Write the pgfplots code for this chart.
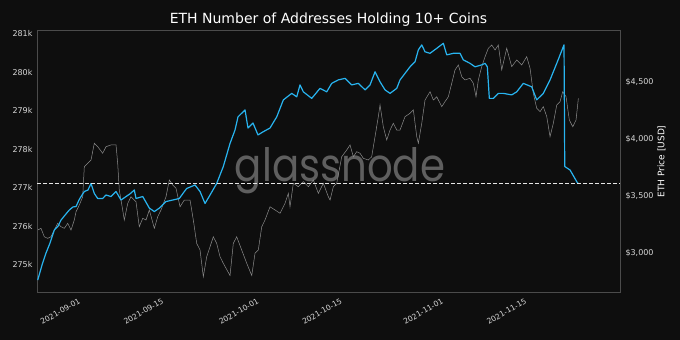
\documentclass[border=0pt]{standalone}
\usepackage{fontspec}
\setmainfont{DejaVu Sans}
\newfontfamily\wmfont{Poppins}
\usepackage{graphicx}
\usepackage{pgfplots}
\pgfplotsset{compat=1.18}
\usepackage{pgfplotstable}
\definecolor{bgc}{RGB}{14,14,14}
\definecolor{ethblue}{RGB}{40,180,240}
\definecolor{pricegray}{RGB}{140,140,140}
\definecolor{framec}{RGB}{75,75,75}
\definecolor{tickc}{RGB}{215,215,215}
\definecolor{wmc}{RGB}{95,95,95}

\pgfplotstableread{
day addr
-6.89 274.60
-6.17 274.99
-5.50 275.30
-4.83 275.56
-4.10 275.90
-3.48 276.00
-2.97 276.16
-2.13 276.32
-1.58 276.42
-0.96 276.50
-0.45 276.51
0.05 276.68
0.39 276.77
0.94 276.90
1.56 276.94
2.07 277.11
2.62 276.85
3.19 276.72
4.03 276.72
4.59 276.81
5.43 276.77
6.27 276.90
7.11 276.68
7.95 276.77
8.62 276.84
9.34 276.94
9.63 276.72
10.76 276.77
11.87 276.47
12.71 276.38
13.55 276.47
14.67 276.64
15.80 276.68
16.91 276.72
17.75 276.90
18.15 276.98
19.55 277.07
20.39 276.90
21.23 276.59
22.07 276.81
23.19 277.11
24.30 277.55
25.43 278.15
26.27 278.50
26.77 278.84
27.95 279.02
28.45 278.55
29.29 278.68
30.13 278.37
30.97 278.45
32.15 278.55
33.28 278.84
34.39 279.28
35.80 279.45
36.64 279.36
37.19 279.67
37.75 279.49
39.16 279.32
40.55 279.58
41.68 279.49
42.52 279.71
43.63 279.80
44.76 279.84
45.88 279.67
46.99 279.71
48.13 279.54
48.96 279.67
49.80 280.01
50.64 279.75
51.48 279.54
52.32 279.45
53.45 279.58
54.00 279.80
54.84 279.97
55.68 280.14
56.52 280.27
57.08 280.58
57.65 280.71
58.20 280.53
59.04 280.49
60.17 280.62
61.28 280.75
61.85 280.45
62.96 280.49
64.08 280.49
64.64 280.32
65.76 280.23
66.61 280.14
67.73 280.19
68.29 280.23
68.67 280.14
69.01 279.32
69.68 279.32
70.52 279.45
71.36 279.45
72.77 279.41
73.61 279.49
74.72 279.71
76.13 279.62
76.97 279.28
78.08 279.45
79.21 279.80
80.34 280.23
81.56 280.71
81.68 277.55
82.57 277.46
83.80 277.13
83.97 277.11
}\addrtable

\pgfplotstableread{
day price
-6.89 3199
-6.34 3214
-5.78 3140
-5.21 3126
-4.66 3140
-4.10 3199
-3.53 3258
-2.97 3228
-2.42 3214
-1.85 3258
-1.29 3199
-0.74 3287
-0.45 3360
0.10 3418
0.67 3491
0.94 3754
1.51 3784
2.07 3813
2.62 3960
3.19 3930
4.03 3872
4.59 3930
5.43 3945
6.27 3945
6.55 3784
6.82 3550
7.39 3375
7.66 3287
8.24 3433
8.79 3491
9.63 3447
10.18 3228
10.76 3302
11.31 3287
11.87 3375
12.71 3214
13.28 3316
13.83 3375
14.67 3491
15.23 3638
15.80 3594
16.35 3565
17.03 3403
17.75 3462
18.71 3462
19.26 3287
19.83 3082
20.39 3024
20.94 2790
21.51 2965
22.07 3053
22.62 3140
23.19 3082
23.75 2965
24.30 2907
25.43 2800
25.98 3082
26.55 3140
27.39 3024
28.24 2907
29.08 2800
29.63 2995
30.18 3024
30.76 3228
31.31 3287
32.15 3403
32.99 3375
33.83 3346
34.67 3433
35.23 3521
35.51 3403
36.07 3609
36.91 3579
37.75 3623
38.59 3579
39.43 3638
40.27 3521
41.11 3609
41.95 3491
42.24 3462
42.79 3579
43.36 3609
44.20 3842
45.04 3901
45.60 3945
46.15 3842
46.72 3886
47.28 3872
47.83 3828
48.67 3813
49.24 3842
49.80 4018
50.35 4193
50.64 4296
51.19 4105
51.76 3989
52.32 4076
52.87 4135
53.45 4076
54.00 4076
54.84 4193
55.68 4223
56.24 4252
56.81 4018
57.08 3960
57.65 4135
58.20 4339
59.04 4412
59.60 4339
60.17 4368
61.01 4281
61.56 4325
62.12 4368
62.69 4486
63.24 4603
63.80 4646
64.37 4544
64.92 4515
65.76 4530
66.32 4486
66.77 4368
67.16 4515
67.73 4632
68.29 4719
68.84 4793
69.41 4822
69.97 4778
70.52 4822
71.09 4603
71.93 4793
72.77 4632
73.61 4690
74.45 4646
75.29 4719
75.85 4618
76.40 4398
76.97 4267
77.53 4237
78.08 4281
78.66 4193
79.21 4018
79.76 4135
80.34 4296
80.89 4325
81.34 4412
81.90 4368
82.45 4164
83.03 4105
83.58 4164
83.97 4354
}\pricetable

\begin{document}
\begin{tikzpicture}
\useasboundingbox (0,0) rectangle (680pt,340pt);
\fill[bgc] (0,0) rectangle (680pt,340pt);
% watermark
\node[anchor=base, inner sep=0pt, text=wmc] at (340pt,158pt)
  {\resizebox{210pt}{34pt}{\wmfont glassnode}};
% title
\node[anchor=base, inner sep=0pt, text=white] at (328.5pt,316pt)
  {\fontsize{14}{16}\selectfont ETH Number of Addresses Holding 10+ Coins};
% right label
\node[rotate=90, inner sep=0pt, text=white] at (661.5pt,178.5pt)
  {\fontsize{9}{11}\selectfont ETH Price [USD]};

% price axis (right)
\begin{axis}[
  at={(37pt,47.7pt)}, anchor=south west,
  scale only axis, width=583pt, height=261.6pt,
  xmin=-7.01, xmax=90.97,
  ymin=2653, ymax=4947,
  hide x axis,
  axis y line*=right,
  y axis line style={draw=none},
  ytick={3000,3500,4000,4500},
  yticklabels={{\$3,000},{\$3,500},{\$4,000},{\$4,500}},
  major tick length=0pt,
  yticklabel style={font=\fontsize{8}{9}\selectfont, text=tickc, xshift=2pt},
]
\addplot[pricegray, line width=0.5pt, no marks] table[x=day, y=price] {\pricetable};
\end{axis}

% address axis (left)
\begin{axis}[
  at={(37pt,47.7pt)}, anchor=south west,
  scale only axis, width=583pt, height=261.6pt,
  xmin=-7.01, xmax=90.97,
  ymin=274.283, ymax=281.078,
  axis line style={draw=framec, line width=0.8pt},
  xtick pos=bottom, ytick pos=left,
  major tick length=0pt,
  xtick={0,14,30,44,61,75},
  xticklabels={2021-09-01,2021-09-15,2021-10-01,2021-10-15,2021-11-01,2021-11-15},
  xticklabel style={font=\fontsize{7.6}{9}\selectfont, text=tickc, rotate=30, anchor=north east, yshift=-1pt},
  ytick={275,276,277,278,279,280,281},
  yticklabels={275k,276k,277k,278k,279k,280k,281k},
  yticklabel style={font=\fontsize{8}{9}\selectfont, text=tickc, xshift=-1pt},
]
\addplot[ethblue, line width=1.2pt, no marks, line join=round] table[x=day, y=addr] {\addrtable};
\addplot[white!90!black, line width=1pt, dash pattern=on 4pt off 2pt, no marks] coordinates {(-7.01,277.11) (90.97,277.11)};
\end{axis}
\end{tikzpicture}
\end{document}
